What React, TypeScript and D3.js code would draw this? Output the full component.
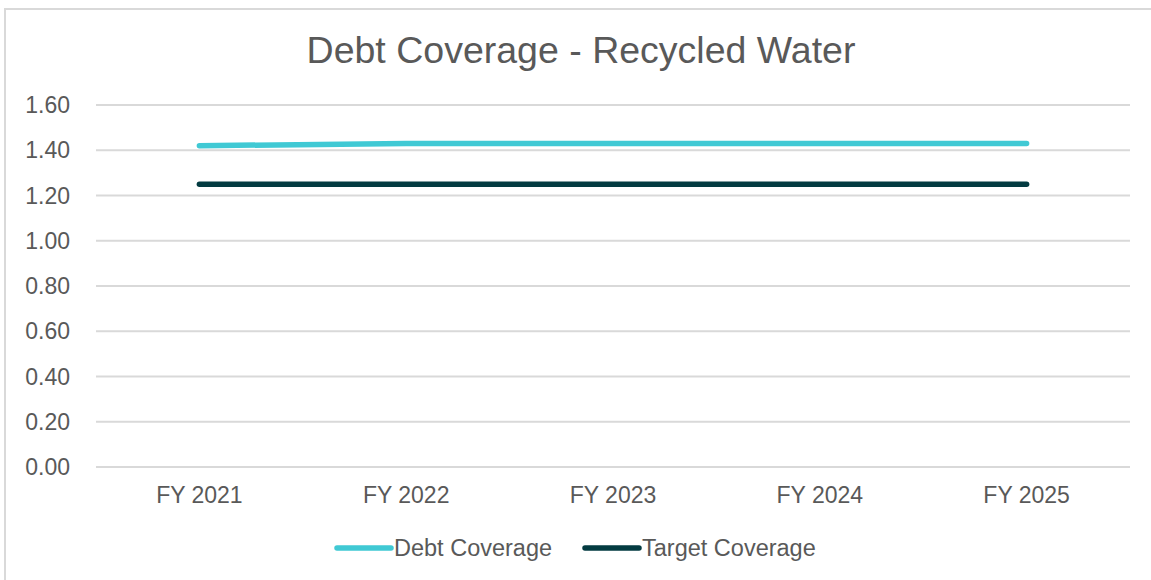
import React, { useEffect, useRef } from "react";
import * as d3 from "d3";

const categories = ["FY 2021", "FY 2022", "FY 2023", "FY 2024", "FY 2025"];
const debtCoverage = [1.42, 1.43, 1.43, 1.43, 1.43];
const targetCoverage = [1.25, 1.25, 1.25, 1.25, 1.25];
const yTicks = [0, 0.2, 0.4, 0.6, 0.8, 1.0, 1.2, 1.4, 1.6];
const seriesNames = ["Debt Coverage", "Target Coverage"];

const WIDTH = 1151;
const HEIGHT = 580;

const App: React.FC = () => {
  const svgRef = useRef<SVGSVGElement>(null);

  useEffect(() => {
    if (!svgRef.current) return;
    const svg = d3.select(svgRef.current);
    svg.selectAll("*").remove();

    const font = "Liberation Sans, Arial, sans-serif";
    const textColor = "#595959";
    const gridColor = "#d9d9d9";
    const colors = ["#40c9d4", "#033b41"];

    const margin = { top: 105, right: 21, bottom: 113, left: 96 };
    const plotW = WIDTH - margin.left - margin.right;
    const plotH = HEIGHT - margin.top - margin.bottom;

    svg.attr("width", WIDTH).attr("height", HEIGHT).style("font-family", font);

    svg
      .append("rect")
      .attr("width", WIDTH)
      .attr("height", HEIGHT)
      .attr("fill", "#fff");

    // chart frame
    svg
      .append("path")
      .attr("d", `M5,${HEIGHT + 2} L5,9 L${WIDTH + 2},9`)
      .attr("fill", "none")
      .attr("stroke", gridColor)
      .attr("stroke-width", 2);

    svg
      .append("text")
      .attr("x", 581)
      .attr("y", 63)
      .attr("text-anchor", "middle")
      .style("font-size", "37.5px")
      .style("fill", textColor)
      .text("Debt Coverage - Recycled Water");

    const g = svg
      .append("g")
      .attr("transform", `translate(${margin.left},${margin.top})`);

    const x = d3.scaleBand<string>().domain(categories).range([0, plotW]);
    const y = d3.scaleLinear().domain([0, 1.6]).range([plotH, 0]);

    g.selectAll(".grid")
      .data(yTicks)
      .enter()
      .append("line")
      .attr("x1", 0)
      .attr("x2", plotW)
      .attr("y1", (d) => y(d))
      .attr("y2", (d) => y(d))
      .attr("stroke", gridColor)
      .attr("stroke-width", 2);

    g.selectAll(".ylab")
      .data(yTicks)
      .enter()
      .append("text")
      .attr("x", -26)
      .attr("y", (d) => y(d) + 8)
      .attr("text-anchor", "end")
      .style("font-size", "23px")
      .style("fill", textColor)
      .text((d) => d3.format(".2f")(d));

    g.selectAll(".xlab")
      .data(categories)
      .enter()
      .append("text")
      .attr("x", (d) => (x(d) ?? 0) + x.bandwidth() / 2)
      .attr("y", plotH + 36)
      .attr("text-anchor", "middle")
      .style("font-size", "23px")
      .style("fill", textColor)
      .text((d) => d);

    const line = d3
      .line<number>()
      .x((_d, i) => (x(categories[i]) ?? 0) + x.bandwidth() / 2)
      .y((d) => y(d));

    [debtCoverage, targetCoverage].forEach((series, i) => {
      g.append("path")
        .datum(series)
        .attr("d", line)
        .attr("fill", "none")
        .attr("stroke", colors[i])
        .attr("stroke-width", 5.5)
        .attr("stroke-linecap", "round")
        .attr("stroke-linejoin", "round");
    });

    // legend
    const legendX = [337, 585];
    const legendY = 548;
    seriesNames.forEach((name, i) => {
      svg
        .append("line")
        .attr("x1", legendX[i])
        .attr("x2", legendX[i] + 54)
        .attr("y1", legendY)
        .attr("y2", legendY)
        .attr("stroke", colors[i])
        .attr("stroke-width", 5.5)
        .attr("stroke-linecap", "round");
      svg
        .append("text")
        .attr("x", legendX[i] + 57)
        .attr("y", legendY + 8)
        .style("font-size", "23.5px")
        .style("fill", textColor)
        .text(name);
    });
  }, []);

  return (
    <div style={{ position: "fixed", top: 0, left: 0 }}>
      <svg ref={svgRef} style={{ display: "block" }} />
    </div>
  );
};

export default App;
